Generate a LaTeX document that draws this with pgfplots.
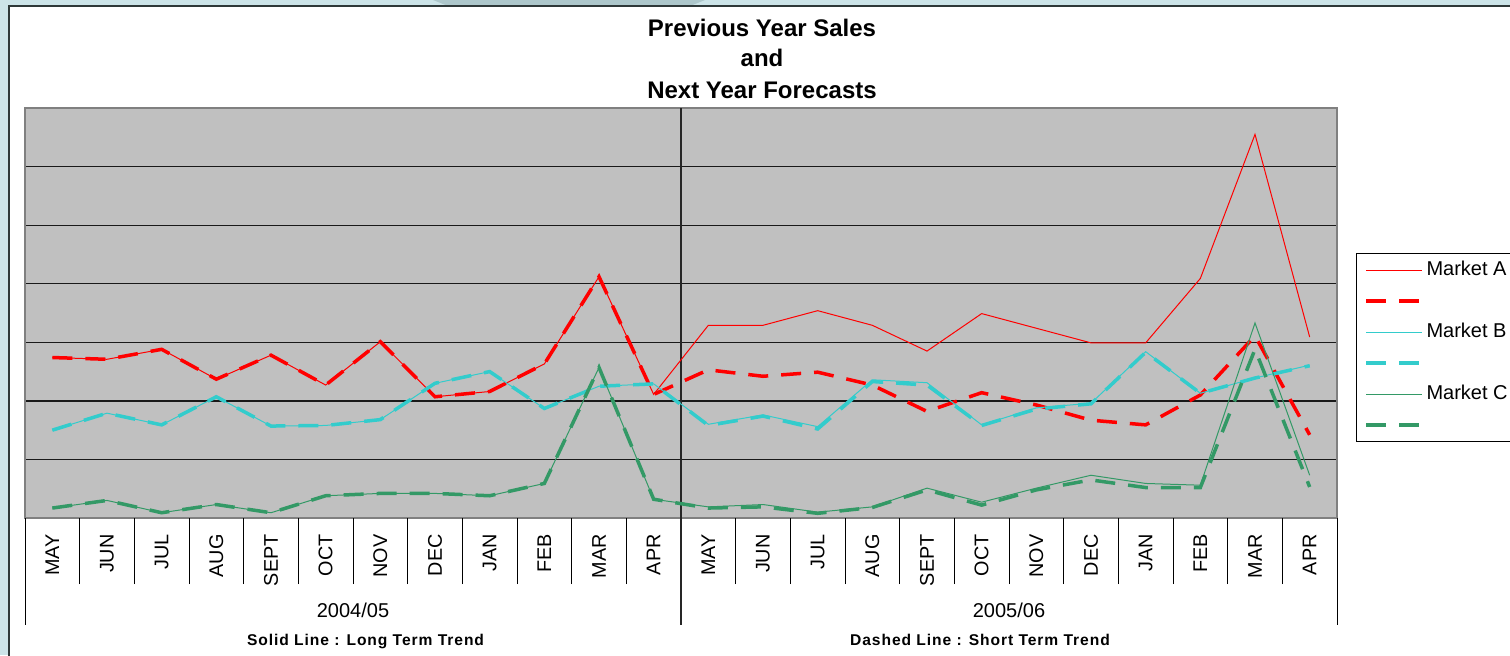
\documentclass[border=0pt]{standalone}
\usepackage{fontspec}
\setmainfont{Liberation Sans}
\usepackage{pgfplots}
\usepackage{pgfplotstable}
\pgfplotsset{compat=1.18}

\definecolor{mA}{HTML}{FF0000}
\definecolor{mB}{HTML}{33CCCC}
\definecolor{mC}{HTML}{339966}
\definecolor{plotbg}{HTML}{C0C0C0}
\definecolor{framebg}{HTML}{CCE4E8}
\definecolor{blob}{HTML}{ADC7CB}
\definecolor{framedark}{HTML}{2E3838}

\pgfplotstableread{
x A Ad B Bd C Cd
0 274 274 150 150 17 17
1 271 271 179 179 30 30
2 288 288 159 159 9 9
3 237 237 207 207 23 23
4 278 278 157 157 9 9
5 227 227 158 158 38 38
6 301 301 168 168 42 42
7 207 207 230 230 42 42
8 216 216 250 250 38 38
9 263 263 187 187 59 59
10 412 412 225 225 257 257
11 211 211 229 229 32 32
12 329 253 160 158 19 17
13 329 242 176 174 23 19
14 354 249 156 152 10 8
15 329 227 236 233 19 18
16 285 182 231 227 51 48
17 349 214 159 158 27 22
18 324 193 188 186 51 48
19 299 167 196 195 73 65
20 299 159 284 283 59 52
21 409 210 213 213 56 52
22 655 311 239 239 333 288
23 309 142 261 260 73 53
}\data

\begin{document}
\begin{tikzpicture}
\fill[framebg] (-12.5pt,-68.5pt) rectangle (742.5pt,259pt);
\fill[blob] (204pt,259pt) -- (211.5pt,256pt) -- (332.5pt,256pt) -- (340pt,259pt) -- cycle;
\filldraw[fill=white, draw=framedark, line width=0.8pt] (-8pt,-80pt) rectangle (760pt,256pt);

\begin{axis}[
  at={(0pt,0pt)}, anchor=south west,
  scale only axis, width=656pt, height=205pt,
  xmin=-0.5, xmax=23.5, ymin=0, ymax=700,
  clip=false,
  axis background/.style={fill=plotbg},
  axis line style={draw=black!50, line width=0.8pt},
  ytick={0,100,...,700}, yticklabels={}, ytick style={draw=none},
  ymajorgrids, grid style={draw=black!90, line width=0.65pt},
  xtick={0,...,23},
  xticklabels={MAY,JUN,JUL,AUG,SEPT,OCT,NOV,DEC,JAN,FEB,MAR,APR,MAY,JUN,JUL,AUG,SEPT,OCT,NOV,DEC,JAN,FEB,MAR,APR},
  xtick pos=bottom,
  major tick length=0pt,
  xticklabel style={rotate=90, anchor=east, inner sep=0pt, font=\fontsize{9.9}{11}\selectfont},
  xticklabel shift=8pt,
  extra x ticks={-0.5,0.5,...,23.5},
  extra x tick labels={},
  extra x tick style={major tick length=33pt, tick align=outside, tick style={draw=black, line width=0.5pt}, grid=none},
  legend style={at={(axis description cs:1.01448,0.6463)}, anchor=north west, draw=black, line width=0.6pt, fill=white, inner xsep=4pt, inner ysep=0.5pt, row sep=0pt, column sep=1.2pt, font=\fontsize{10}{12}\selectfont, nodes={inner sep=0pt, minimum height=15.5pt}},
  legend cell align=left,
  legend image code/.code={\draw[#1] (0pt,0pt) -- (28pt,0pt);},
]
\draw[black!85, line width=0.6pt] (axis cs:11.5,700) -- (axis cs:11.5,0) -- ++(0pt,-53.5pt);
\draw[black, line width=0.5pt] (axis cs:-0.5,0) -- ++(0pt,-53.5pt);
\draw[black, line width=0.5pt] (axis cs:23.5,0) -- ++(0pt,-53.5pt);

\addplot[mA, line width=0.5pt] table[x=x,y=A]{\data};
\addlegendentry{Market A}
\addplot[mA, line width=1.75pt, dash pattern=on 10pt off 6.5pt] table[x=x,y=Ad]{\data};
\addlegendentry{\mbox{}}
\addplot[mB, line width=0.5pt] table[x=x,y=B]{\data};
\addlegendentry{Market B}
\addplot[mB, line width=1.75pt, dash pattern=on 10pt off 6.5pt] table[x=x,y=Bd]{\data};
\addlegendentry{\mbox{}}
\addplot[mC, line width=0.5pt] table[x=x,y=C]{\data};
\addlegendentry{Market C}
\addplot[mC, line width=1.75pt, dash pattern=on 10pt off 6.5pt] table[x=x,y=Cd]{\data};
\addlegendentry{\mbox{}}
\end{axis}

\node[font=\fontsize{12}{14}\selectfont\bfseries, anchor=base] at (368.5pt,241pt) {Previous Year Sales};
\node[font=\fontsize{12}{14}\selectfont\bfseries, anchor=base] at (368.5pt,225.75pt) {and};
\node[font=\fontsize{12}{14}\selectfont\bfseries, anchor=base] at (368.5pt,209.75pt) {Next Year Forecasts};
\node[font=\fontsize{10}{12}\selectfont, anchor=base] at (164pt,-49.5pt) {2004/05};
\node[font=\fontsize{10}{12}\selectfont, anchor=base] at (492pt,-49.5pt) {2005/06};
\node[font=\fontsize{7.8}{9}\selectfont\bfseries\addfontfeatures{LetterSpace=6}, anchor=base] at (170.25pt,-63.5pt) {Solid Line : Long Term Trend};
\node[font=\fontsize{7.8}{9}\selectfont\bfseries\addfontfeatures{LetterSpace=6}, anchor=base] at (477.5pt,-63.5pt) {Dashed Line : Short Term Trend};

\pgfresetboundingbox
\useasboundingbox (-12.5pt,-68.5pt) rectangle (742.5pt,259pt);
\end{tikzpicture}
\end{document}
